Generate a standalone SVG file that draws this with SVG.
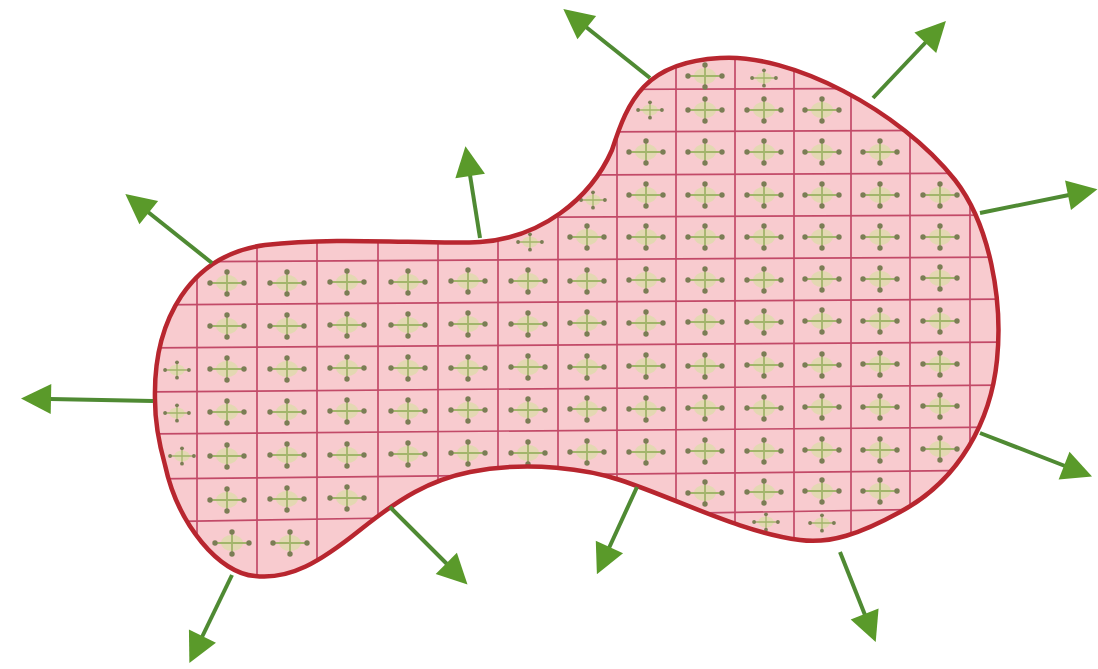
<svg xmlns="http://www.w3.org/2000/svg" xmlns:xlink="http://www.w3.org/1999/xlink" width="1098" height="669" viewBox="0 0 1098 669">
<style>
.gl{stroke:#c24a68;stroke-width:1.7;fill:none}
.arr{stroke:#4f8a33;stroke-width:4;fill:none;marker-end:url(#ah)}
.xl{stroke:#a2b56b;stroke-width:1.8;fill:none}
.xd{fill:#7b7d55}
</style>
<defs>
<path id="blobPath" d="M155,400 C153,320 190,255 265,245 C340,236 430,245 480,242 C540,238 590,200 612,150 C628,100 645,62 720,58 C790,53 900,110 955,180 C990,225 1003,300 997,360 C991,420 960,480 900,512 C860,534 830,544 800,540 C740,532 680,500 620,480 C590,470 530,460 470,472 C430,480 400,498 360,530 C320,562 290,580 255,576 C220,574 178,525 165,465 C158,440 155,420 155,400 Z"/>
<clipPath id="clip"><use xlink:href="#blobPath"/></clipPath>
<marker id="ah" markerUnits="userSpaceOnUse" markerWidth="32" markerHeight="32" refX="1" refY="16" orient="auto" overflow="visible">
<path d="M0,1 L30,16 L0,31 Z" fill="#5a9a2a"/>
</marker>
<g id="x">
<ellipse rx="11" ry="8" fill="#dcdca8" opacity="0.75"/>
<path class="xl" d="M-19,0H19M0,-13V13"/>
<circle class="xd" cx="-17" cy="0" r="2.7"/>
<circle class="xd" cx="17" cy="0" r="2.7"/>
<circle class="xd" cx="0" cy="-11" r="2.7"/>
<circle class="xd" cx="0" cy="11" r="2.7"/>
</g>
<g id="s"><use xlink:href="#x" transform="scale(0.7)"/></g>
</defs>

<g id="blob">
<use xlink:href="#blobPath" fill="#f8cbcf"/>
</g>

<g id="grid" clip-path="url(#clip)">
<line class="gl" x1="140" y1="91" x2="1010" y2="88"/>
<line class="gl" x1="140" y1="134" x2="1010" y2="130"/>
<line class="gl" x1="140" y1="177" x2="1010" y2="173"/>
<line class="gl" x1="140" y1="219" x2="1010" y2="215"/>
<line class="gl" x1="140" y1="262" x2="1010" y2="257"/>
<line class="gl" x1="140" y1="305" x2="1010" y2="299"/>
<line class="gl" x1="140" y1="348" x2="1010" y2="342"/>
<line class="gl" x1="140" y1="392" x2="1010" y2="385"/>
<line class="gl" x1="140" y1="434" x2="1010" y2="427"/>
<line class="gl" x1="140" y1="479" x2="1010" y2="470"/>
<line class="gl" x1="140" y1="522" x2="1010" y2="508"/>
<line class="gl" x1="197" y1="40" x2="197" y2="600"/>
<line class="gl" x1="257" y1="40" x2="257" y2="600"/>
<line class="gl" x1="317" y1="40" x2="317" y2="600"/>
<line class="gl" x1="378" y1="40" x2="378" y2="600"/>
<line class="gl" x1="438" y1="40" x2="438" y2="600"/>
<line class="gl" x1="498" y1="40" x2="498" y2="600"/>
<line class="gl" x1="558" y1="40" x2="558" y2="600"/>
<line class="gl" x1="617" y1="40" x2="617" y2="600"/>
<line class="gl" x1="676" y1="40" x2="676" y2="600"/>
<line class="gl" x1="735" y1="40" x2="735" y2="600"/>
<line class="gl" x1="794" y1="40" x2="794" y2="600"/>
<line class="gl" x1="851" y1="40" x2="851" y2="600"/>
<line class="gl" x1="910" y1="40" x2="910" y2="600"/>
<line class="gl" x1="970" y1="40" x2="970" y2="600"/>
</g>

<g id="cells" clip-path="url(#clip)">
<use xlink:href="#x" x="705" y="76"/>
<use xlink:href="#s" x="764" y="78"/>

<use xlink:href="#s" x="650" y="110"/>
<use xlink:href="#x" x="705" y="110"/>
<use xlink:href="#x" x="764" y="110"/>
<use xlink:href="#x" x="822" y="110"/>

<use xlink:href="#x" x="646" y="152"/>
<use xlink:href="#x" x="705" y="152"/>
<use xlink:href="#x" x="764" y="152"/>
<use xlink:href="#x" x="822" y="152"/>
<use xlink:href="#x" x="880" y="152"/>

<use xlink:href="#s" x="593" y="200"/>
<use xlink:href="#x" x="646" y="195"/>
<use xlink:href="#x" x="705" y="195"/>
<use xlink:href="#x" x="764" y="195"/>
<use xlink:href="#x" x="822" y="195"/>
<use xlink:href="#x" x="880" y="195"/>
<use xlink:href="#x" x="940" y="195"/>

<use xlink:href="#s" x="530" y="242"/>
<use xlink:href="#x" x="587" y="237"/>
<use xlink:href="#x" x="646" y="237"/>
<use xlink:href="#x" x="705" y="237"/>
<use xlink:href="#x" x="764" y="237"/>
<use xlink:href="#x" x="822" y="237"/>
<use xlink:href="#x" x="880" y="237"/>
<use xlink:href="#x" x="940" y="237"/>

<use xlink:href="#x" x="227" y="283"/>
<use xlink:href="#x" x="287" y="283"/>
<use xlink:href="#x" x="347" y="282"/>
<use xlink:href="#x" x="408" y="282"/>
<use xlink:href="#x" x="468" y="281"/>
<use xlink:href="#x" x="528" y="281"/>
<use xlink:href="#x" x="587" y="281"/>
<use xlink:href="#x" x="646" y="280"/>
<use xlink:href="#x" x="705" y="280"/>
<use xlink:href="#x" x="764" y="280"/>
<use xlink:href="#x" x="822" y="279"/>
<use xlink:href="#x" x="880" y="279"/>
<use xlink:href="#x" x="940" y="278"/>

<use xlink:href="#x" x="227" y="326"/>
<use xlink:href="#x" x="287" y="326"/>
<use xlink:href="#x" x="347" y="325"/>
<use xlink:href="#x" x="408" y="325"/>
<use xlink:href="#x" x="468" y="324"/>
<use xlink:href="#x" x="528" y="324"/>
<use xlink:href="#x" x="587" y="323"/>
<use xlink:href="#x" x="646" y="323"/>
<use xlink:href="#x" x="705" y="322"/>
<use xlink:href="#x" x="764" y="322"/>
<use xlink:href="#x" x="822" y="321"/>
<use xlink:href="#x" x="880" y="321"/>
<use xlink:href="#x" x="940" y="321"/>

<use xlink:href="#s" x="177" y="370"/>
<use xlink:href="#x" x="227" y="369"/>
<use xlink:href="#x" x="287" y="369"/>
<use xlink:href="#x" x="347" y="368"/>
<use xlink:href="#x" x="408" y="368"/>
<use xlink:href="#x" x="468" y="368"/>
<use xlink:href="#x" x="528" y="367"/>
<use xlink:href="#x" x="587" y="367"/>
<use xlink:href="#x" x="646" y="366"/>
<use xlink:href="#x" x="705" y="366"/>
<use xlink:href="#x" x="764" y="365"/>
<use xlink:href="#x" x="822" y="365"/>
<use xlink:href="#x" x="880" y="364"/>
<use xlink:href="#x" x="940" y="364"/>

<use xlink:href="#s" x="177" y="413"/>
<use xlink:href="#x" x="227" y="412"/>
<use xlink:href="#x" x="287" y="412"/>
<use xlink:href="#x" x="347" y="411"/>
<use xlink:href="#x" x="408" y="411"/>
<use xlink:href="#x" x="468" y="410"/>
<use xlink:href="#x" x="528" y="410"/>
<use xlink:href="#x" x="587" y="409"/>
<use xlink:href="#x" x="646" y="409"/>
<use xlink:href="#x" x="705" y="408"/>
<use xlink:href="#x" x="764" y="408"/>
<use xlink:href="#x" x="822" y="407"/>
<use xlink:href="#x" x="880" y="407"/>
<use xlink:href="#x" x="940" y="406"/>

<use xlink:href="#s" x="182" y="456"/>
<use xlink:href="#x" x="227" y="456"/>
<use xlink:href="#x" x="287" y="455"/>
<use xlink:href="#x" x="347" y="455"/>
<use xlink:href="#x" x="408" y="454"/>
<use xlink:href="#x" x="468" y="453"/>
<use xlink:href="#x" x="528" y="453"/>
<use xlink:href="#x" x="587" y="452"/>
<use xlink:href="#x" x="646" y="452"/>
<use xlink:href="#x" x="705" y="451"/>
<use xlink:href="#x" x="764" y="451"/>
<use xlink:href="#x" x="822" y="450"/>
<use xlink:href="#x" x="880" y="450"/>
<use xlink:href="#x" x="940" y="449"/>

<use xlink:href="#x" x="227" y="500"/>
<use xlink:href="#x" x="287" y="499"/>
<use xlink:href="#x" x="347" y="498"/>
<use xlink:href="#x" x="705" y="493"/>
<use xlink:href="#x" x="764" y="492"/>
<use xlink:href="#x" x="822" y="491"/>
<use xlink:href="#x" x="880" y="491"/>

<use xlink:href="#x" x="232" y="543"/>
<use xlink:href="#x" x="290" y="543"/>
<use xlink:href="#s" x="766" y="522"/>
<use xlink:href="#s" x="822" y="523"/>
</g>

<g id="outline">
<use xlink:href="#blobPath" fill="none" stroke="#b8262f" stroke-width="4.5"/>
</g>

<g id="connectors">
<line class="arr" x1="650" y1="78" x2="586" y2="27"/>
<line class="arr" x1="873" y1="98" x2="926" y2="42"/>
<line class="arr" x1="980" y1="213" x2="1069" y2="195"/>
<line class="arr" x1="980" y1="433" x2="1065" y2="466"/>
<line class="arr" x1="840" y1="552" x2="865" y2="615"/>
<line class="arr" x1="637" y1="487" x2="609" y2="548"/>
<line class="arr" x1="390" y1="507" x2="447" y2="564"/>
<line class="arr" x1="232" y1="575" x2="202" y2="637"/>
<line class="arr" x1="153" y1="401" x2="50" y2="399"/>
<line class="arr" x1="212" y1="263" x2="148" y2="212"/>
<line class="arr" x1="480" y1="238" x2="470" y2="175"/>
</g>
</svg>
